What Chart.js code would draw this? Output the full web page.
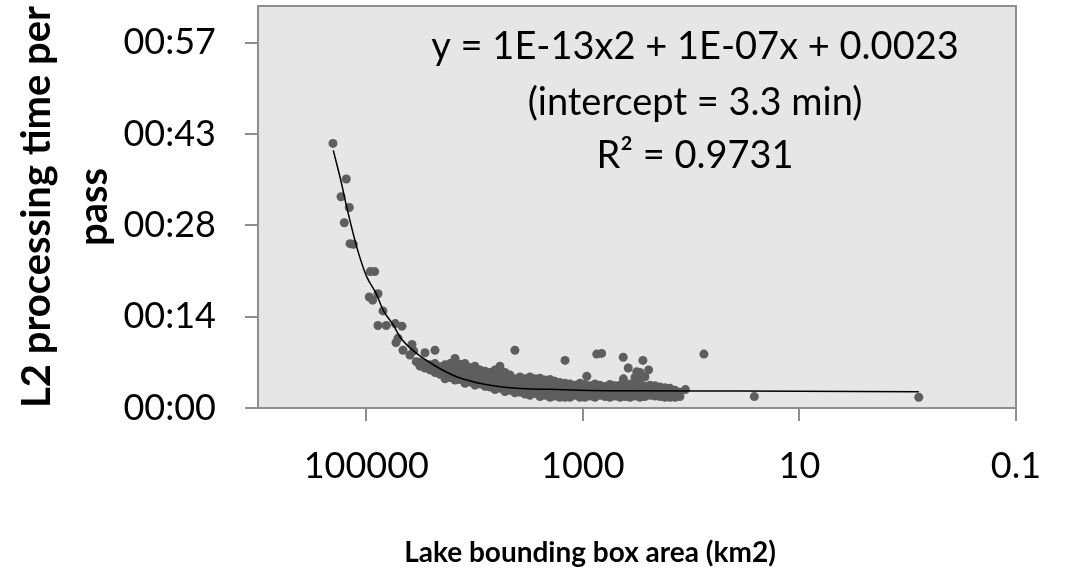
<!DOCTYPE html>
<html>
<head>
<meta charset="utf-8">
<script src="https://cdn.jsdelivr.net/npm/chart.js@4.4.0/dist/chart.umd.min.js"></script>
<style>
  html, body { margin: 0; padding: 0; background: #fff; }
  #wrap { width: 1068px; height: 576px; }
</style>
</head>
<body>
<div id="wrap"><canvas id="chart" width="1068" height="576"></canvas></div>
<script>
// values: x = lake bounding box area (km2), y = minutes per pass
const xTicks = [100000, 1000, 10, 0.1]
const yTicks = [0, 14.4, 28.8, 43.2, 57.6]   // 0.01 day steps

// lone points (steep part, outliers, small lakes)
const sparseArea = [203000, 171200, 153000, 159700, 143600, 141400, 131800, 91900, 83630, 93800,
    87300, 78000, 70150, 78000, 65370, 54000, 46820, 53200, 50970, 45830,
    37840, 36500, 39500, 34530, 4240, 1460, 920, 745, 671, 424,
    422, 381, 318, 297, 279, 247, 113, 76.2, 26.1, 0.79]
const sparseMinutes = [41.7, 33.3, 36.1, 29.2, 31.6, 25.9, 25.8, 21.5, 21.5, 17.5,
    17.0, 18.0, 15.3, 13.0, 13.0, 13.3, 12.9, 10.3, 11.0, 9.1,
    10.0, 9.0, 8.35, 7.3, 9.1, 7.5, 5.0, 8.5, 8.6, 8.0,
    4.6, 6.3, 5.7, 5.6, 7.5, 6.0, 2.9, 8.5, 1.8, 1.7]

// dense band, one area per column and the times stacked in it
const bandArea = [31900, 28700, 25800, 23200, 20860, 18750, 16860, 15160, 13630, 12260,
    11020, 9910, 8910, 8010, 7200, 6480, 5830, 5240, 4710, 4240,
    3810, 3430, 3080, 2770, 2490, 2240, 2010, 1810, 1630, 1460,
    1315, 1183, 1064, 957, 860, 773, 695, 625, 562, 506,
    454, 408, 367, 330, 297, 267, 240, 216, 194, 175,
    157, 141, 127]
const bandMinutes = [
    [7.2, 6.6], [8.7, 7.0, 6.3], [6.8, 6.0], [9.1, 7.0, 6.4, 5.6], [6.5, 5.9, 5.3],
    [6.8, 6.1, 5.2, 4.6], [7.0, 6.3, 5.5, 4.8], [7.8, 6.6, 5.8, 5.0, 4.4], [6.9, 6.0, 5.2, 4.5], [7.0, 6.2, 5.4, 4.6, 3.9],
    [6.4, 5.6, 4.8, 4.1], [6.6, 5.9, 5.1, 4.3, 3.6], [6.0, 5.3, 4.5, 3.8], [5.8, 5.0, 4.2, 3.4], [5.6, 4.9, 4.1, 3.3],
    [6.0, 5.3, 4.5, 3.7, 2.9], [6.6, 5.5, 4.7, 3.9, 3.1], [5.6, 4.8, 4.0, 3.2, 2.6], [5.2, 4.4, 3.6, 2.8], [4.6, 3.9, 3.1, 2.4],
    [4.9, 4.1, 3.3, 2.5], [4.6, 3.8, 3.0, 2.2], [4.9, 4.2, 3.4, 2.6, 2.0], [4.6, 3.9, 3.1, 2.3], [4.7, 4.0, 3.2, 2.4, 1.8],
    [4.4, 3.6, 2.8, 2.0], [4.5, 3.8, 3.0, 2.2, 1.7], [4.2, 3.4, 2.6, 1.9], [4.0, 3.2, 2.4, 1.7], [3.9, 3.1, 2.3, 1.7],
    [3.8, 3.0, 2.2, 1.7], [3.6, 2.8, 2.0], [3.9, 3.1, 2.3, 1.7], [3.7, 2.9, 2.1, 1.7], [3.5, 2.7, 1.9],
    [3.8, 3.0, 2.2, 1.7], [3.6, 2.8, 2.0], [3.4, 2.6, 1.8], [3.7, 2.9, 2.1, 1.7], [3.5, 2.7, 1.9],
    [3.6, 2.8, 2.0, 1.7], [3.4, 2.6, 1.8], [3.8, 3.0, 2.2, 1.7], [4.8, 3.5, 2.7, 1.9], [4.4, 3.6, 2.8, 2.0, 1.7],
    [4.9, 3.4, 2.6, 1.8], [3.6, 2.8, 2.0], [3.5, 2.7, 1.9], [3.3, 2.5, 1.8], [3.2, 2.4, 1.7],
    [3.1, 2.3, 1.7], [2.8, 2.0, 1.7], [2.5, 1.8]
]

// polynomial trendline as drawn
const trendArea = [201700, 172000, 151700, 122600, 99150, 81370, 69660, 56360, 48850, 34240,
    22390, 14640, 8320, 4090, 2010, 603, 35.4, 0.79]
const trendMinutes = [40.6, 35.9, 31.7, 25.4, 20.7, 18.1, 15.4, 13.1, 11.2, 8.6,
    6.5, 4.93, 3.78, 3.10, 2.94, 2.72, 2.68, 2.57]

const fitLines = ['y = 1E-13x2 + 1E-07x + 0.0023', '(intercept = 3.3 min)', 'R\u00b2 = 0.9731']
const xTitle = 'Lake bounding box area (km2)'
const yTitle = ['L2 processing time per', 'pass']

let points = sparseArea.map((a, i) => ({x: a, y: sparseMinutes[i]}))
bandArea.forEach((a, i) => {
    bandMinutes[i].forEach(m => points.push({x: a, y: m}))
})
const trend = trendArea.map((a, i) => ({x: a, y: trendMinutes[i]}))

const frameColor = '#8e8e8e'

const plotFrame = {
    id: 'plotFrame',
    beforeDraw(chart) {
        const {ctx, chartArea: c} = chart
        ctx.save()
        ctx.fillStyle = '#e6e6e6'
        ctx.fillRect(c.left, c.top, c.right - c.left, c.bottom - c.top)
        ctx.restore()
    },
    afterDraw(chart) {
        const {ctx, chartArea: c} = chart
        ctx.save()
        ctx.strokeStyle = frameColor
        ctx.lineWidth = 2
        ctx.strokeRect(c.left, c.top, c.right - c.left, c.bottom - c.top)

        ctx.fillStyle = '#000'
        ctx.textAlign = 'center'
        ctx.textBaseline = 'middle'
        ctx.font = '38px Lato'
        const ys = [47, 103, 156]
        fitLines.forEach((t, i) => ctx.fillText(t, 695, ys[i]))

        ctx.font = 'bold 28px Lato'
        ctx.fillText(xTitle, 590, 553)
        ctx.restore()
    }
}

new Chart(document.getElementById('chart'), {
    type: 'scatter',
    data: {
        datasets: [{
            type: 'line',
            data: trend,
            borderColor: '#000',
            borderWidth: 1.5,
            pointRadius: 0,
            cubicInterpolationMode: 'monotone',
            fill: false
        }, {
            data: points,
            backgroundColor: '#5e5e5e',
            borderWidth: 0,
            pointRadius: 4.5
        }]
    },
    options: {
        responsive: false,
        animation: false,
        devicePixelRatio: 1,
        layout: {padding: {top: 6, right: 52, left: 0, bottom: 0}},
        plugins: {legend: {display: false}, tooltip: {enabled: false}},
        scales: {
            x: {
                type: 'logarithmic',
                reverse: true,
                min: 0.1,
                max: 1000000,
                afterBuildTicks: s => { s.ticks = xTicks.map(v => ({value: v})) },
                afterFit: s => {
                    s.height = 168
                    s.paddingLeft = 0
                    s.paddingRight = 0
                },
                border: {display: false},
                grid: {drawOnChartArea: false, drawTicks: true, tickLength: 13, color: frameColor, lineWidth: 2},
                ticks: {
                    autoSkip: false,
                    maxRotation: 0,
                    padding: 24,
                    color: '#000',
                    font: {family: 'Lato', size: 36},
                    callback: v => String(v)
                }
            },
            y: {
                min: 0,
                max: 63.36,
                afterBuildTicks: s => { s.ticks = yTicks.map(v => ({value: v})) },
                afterFit: s => {
                    s.width = 258
                    s.paddingTop = 0
                    s.paddingBottom = 0
                },
                border: {display: false},
                grid: {drawOnChartArea: false, drawTicks: true, tickLength: 13, color: frameColor, lineWidth: 2},
                ticks: {
                    padding: 29,
                    color: '#000',
                    font: {family: 'Lato', size: 36},
                    callback: v => '00:' + String(Math.floor(v + 1e-9)).padStart(2, '0')
                },
                title: {
                    display: true,
                    text: yTitle,
                    color: '#000',
                    font: {family: 'Lato', size: 40, weight: 'bold', lineHeight: 1.425},
                    padding: {top: 9, bottom: 0}
                }
            }
        }
    },
    plugins: [plotFrame]
})
</script>
</body>
</html>
